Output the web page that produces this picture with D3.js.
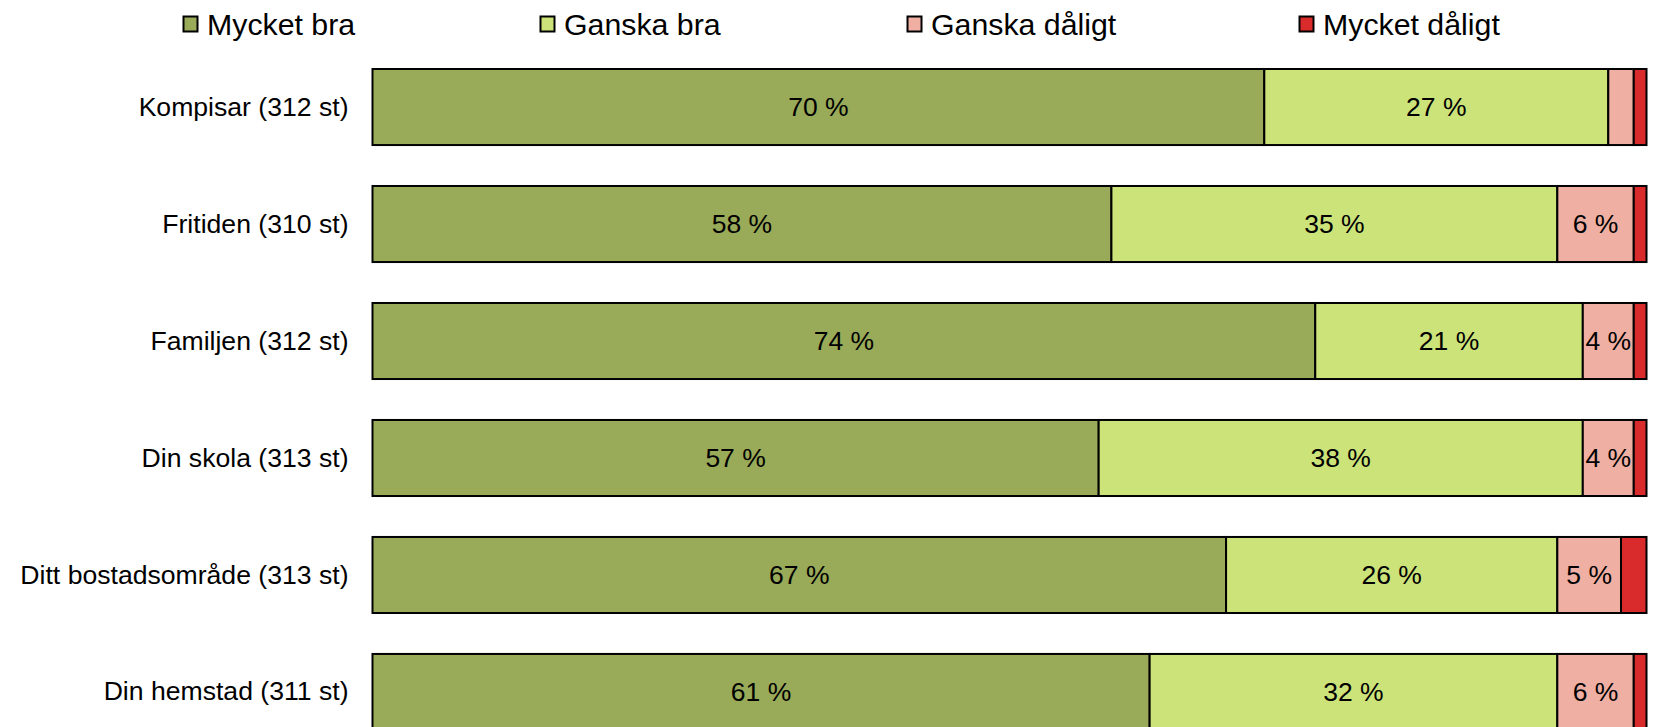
<!DOCTYPE html>
<html>
<head>
<meta charset="utf-8">
<script src="https://cdn.jsdelivr.net/npm/d3@7"></script>
<style>
  html, body { margin: 0; padding: 0; background: #fff; overflow: hidden; }
  svg { display: block; font-family: "Liberation Sans", Arial, sans-serif; }
</style>
</head>
<body>
<svg id="chart" width="1655" height="727"></svg>
<script>
// Survey categories (top to bottom)
const categories = [
  "Kompisar (312 st)",
  "Fritiden (310 st)",
  "Familjen (312 st)",
  "Din skola (313 st)",
  "Ditt bostadsområde (313 st)",
  "Din hemstad (311 st)"
];

// Response options (stack order, left to right)
const seriesNames = ["Mycket bra", "Ganska bra", "Ganska dåligt", "Mycket dåligt"];
const seriesColors = ["#99AA58", "#CCE37A", "#EFB0A3", "#D92B2B"];

// Share of answers in percent, one array per response option
const mycketBra    = [70, 58, 74, 57, 67, 61];
const ganskaBra    = [27, 35, 21, 38, 26, 32];
const ganskaDaligt = [ 2,  6,  4,  4,  5,  6];
const mycketDaligt = [ 1,  1,  1,  1,  2,  1];

const xTicks = [0, 100];

const rows = categories.map((c, i) => ({
  category: c,
  "Mycket bra": mycketBra[i],
  "Ganska bra": ganskaBra[i],
  "Ganska dåligt": ganskaDaligt[i],
  "Mycket dåligt": mycketDaligt[i]
}));

const svg = d3.select("#chart");

const x = d3.scaleLinear().domain(d3.extent(xTicks)).range([372.5, 1646.5]);
const y = d3.scaleBand().domain(categories).range([69, 730]).paddingInner(0.35).paddingOuter(0);
const color = d3.scaleOrdinal().domain(seriesNames).range(seriesColors);

const stacked = d3.stack().keys(seriesNames)(rows);

// Stacked bar segments
const layers = svg.append("g")
  .selectAll("g")
  .data(stacked)
  .join("g")
  .attr("fill", d => color(d.key));

layers.selectAll("rect")
  .data(d => d.map(p => ({ p, key: d.key })))
  .join("rect")
  .attr("x", d => x(d.p[0]))
  .attr("y", d => y(d.p.data.category))
  .attr("width", d => x(d.p[1]) - x(d.p[0]))
  .attr("height", y.bandwidth())
  .attr("stroke", "#000")
  .attr("stroke-width", 2);

// Value labels inside the segments
layers.selectAll("text")
  .data(d => d.map(p => ({ p, key: d.key })).filter(d => d.p[1] - d.p[0] >= 4))
  .join("text")
  .attr("x", d => (x(d.p[0]) + x(d.p[1])) / 2)
  .attr("y", d => y(d.p.data.category) + y.bandwidth() / 2)
  .attr("text-anchor", "middle")
  .attr("dominant-baseline", "central")
  .attr("fill", "#000")
  .attr("font-size", 26.5)
  .text(d => `${d.p[1] - d.p[0]} %`);

// Category axis on the left
const yAxis = svg.append("g")
  .attr("transform", `translate(${x(0)},0)`)
  .call(d3.axisLeft(y).tickSize(0).tickPadding(24));
yAxis.select(".domain").remove();
yAxis.selectAll("text")
  .attr("font-size", 26.6)
  .attr("font-family", "'Liberation Sans', Arial, sans-serif")
  .attr("fill", "#000");

// Legend along the top
const legendX = [183, 540, 907, 1299];
const legend = svg.append("g")
  .selectAll("g")
  .data(seriesNames)
  .join("g")
  .attr("transform", (d, i) => `translate(${legendX[i]},24)`);

legend.append("rect")
  .attr("x", 0.5)
  .attr("y", -7.5)
  .attr("width", 14)
  .attr("height", 15)
  .attr("fill", d => color(d))
  .attr("stroke", "#000")
  .attr("stroke-width", 2);

legend.append("text")
  .attr("x", 24)
  .attr("y", 0)
  .attr("dominant-baseline", "central")
  .attr("font-size", 30.3)
  .attr("fill", "#000")
  .text(d => d);
</script>
</body>
</html>
